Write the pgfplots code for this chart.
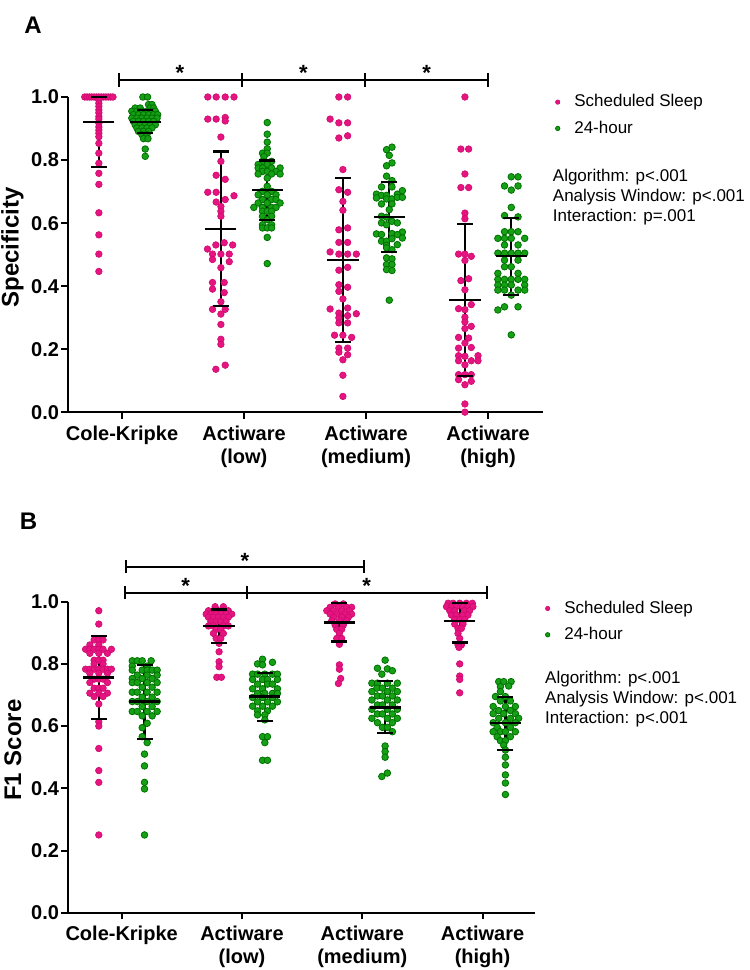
\documentclass[border=0pt]{standalone}
\usepackage{fontspec}
\setmainfont{Liberation Sans}
\usepackage{pgfplots}
\usepackage{pgfplotstable}
\pgfplotsset{compat=1.18}

\definecolor{pinkfill}{RGB}{230,20,128}
\definecolor{pinkedge}{RGB}{205,10,110}
\definecolor{greenfill}{RGB}{22,160,22}
\definecolor{greenedge}{RGB}{0,112,0}

% dx = horizontal swarm offset (reference pixels), y = value
% ---------------- panel A: specificity ----------------
\pgfplotstableread{
dx y
-14 1.0
-11.7 1.0
-9.3 1.0
-7 1.0
-4.7 1.0
-2.3 1.0
0 1.0
2.3 1.0
4.7 1.0
7 1.0
9.3 1.0
11.7 1.0
14 1.0
0 0.99
0 0.98
0 0.97
0 0.959
0 0.95
0 0.938
0 0.93
0 0.917
0 0.905
0 0.895
0 0.885
0 0.874
0 0.853
0 0.822
0 0.790
0 0.758
0 0.723
0 0.633
0 0.563
0 0.502
0 0.447
}\Acp
\pgfplotstableread{
dx y
-2.3 1.0
2.3 1.0
3.3 0.976
6.7 0.976
-10 0.965
-5 0.965
5 0.965
8.3 0.965
-13.3 0.955
-8.3 0.955
-3.3 0.955
1.7 0.955
6.7 0.955
10 0.955
-11.7 0.944
-6.7 0.944
-1.7 0.944
3.3 0.944
8.3 0.944
12.3 0.944
-13.3 0.933
-8.3 0.933
-3.3 0.933
1.7 0.933
6.7 0.933
11.7 0.933
-11.7 0.923
-6.7 0.923
-1.7 0.923
3.3 0.923
8.3 0.923
-10 0.912
-5 0.912
0 0.912
5 0.912
10 0.912
-8.3 0.902
-3.3 0.902
1.7 0.902
6.7 0.902
-6.7 0.891
-1.7 0.891
3.3 0.891
-3.3 0.881
1.7 0.881
-1.7 0.868
2.7 0.868
0 0.835
0 0.812
}\Acg
\pgfplotstableread{
dx y
-13 1.0
-4.7 1.0
4.3 1.0
13 1.0
-13 0.930
-4.7 0.930
4.3 0.935
4.3 0.924
0 0.873
0 0.796
-4.7 0.752
4.3 0.739
-13 0.698
-4.7 0.698
13 0.687
4.3 0.675
-4.7 0.667
0 0.653
0 0.638
0 0.622
-13.3 0.518
-5 0.531
3.3 0.538
11.7 0.531
-8.3 0.502
0 0.502
8.3 0.502
-8.3 0.485
8.3 0.478
0 0.459
-8.3 0.412
3.3 0.412
-8.3 0.391
3.3 0.380
0 0.351
-8.3 0.327
4.3 0.327
0 0.312
0 0.279
0 0.232
0 0.216
4.3 0.150
-5 0.137
}\Alp
\pgfplotstableread{
dx y
0 0.919
0 0.882
0 0.857
0 0.836
-4.7 0.822
0 0.822
-3.3 0.811
-4.7 0.796
4.3 0.796
-9 0.786
0 0.786
-9 0.775
-4.7 0.775
4.3 0.775
12.7 0.775
-4.7 0.764
0 0.764
8.7 0.764
-9 0.756
4.3 0.756
12.7 0.756
0 0.743
0 0.717
-4.7 0.701
4.3 0.701
-9 0.690
0 0.690
8.7 0.690
-4.7 0.675
4.3 0.675
8.7 0.675
-9 0.664
0 0.664
12.7 0.664
-13.3 0.650
-4.7 0.650
4.3 0.650
8.7 0.650
-4.7 0.638
0 0.638
4.3 0.638
-4.7 0.622
4.3 0.622
0 0.611
-4.7 0.595
4.3 0.595
-4.7 0.585
0 0.585
4.3 0.585
0 0.555
0 0.472
}\Alg
\pgfplotstableread{
dx y
-4 1.0
4.7 1.0
-12.7 0.930
-4 0.918
4.7 0.918
-4 0.870
4.7 0.877
0 0.770
-4 0.706
4.7 0.698
0 0.669
0 0.641
-4 0.579
4.7 0.585
-4 0.539
4.7 0.539
-12.7 0.509
-4 0.502
4.7 0.502
13.3 0.502
-4 0.451
4.7 0.460
-4 0.405
4.7 0.397
-4 0.384
0 0.360
-12.7 0.328
-4 0.315
4.7 0.331
-4 0.300
4.7 0.307
13.3 0.313
-4 0.284
4.7 0.284
-8.3 0.245
0 0.245
8.7 0.238
-4 0.204
4.7 0.204
-4 0.191
4.7 0.183
0 0.167
0 0.118
0 0.051
}\Amp
\pgfplotstableread{
dx y
-2.7 0.833
2.7 0.841
0 0.815
2.7 0.791
-2.7 0.782
-2.7 0.749
2.7 0.735
-7.7 0.715
2.7 0.715
-12.7 0.692
-7.7 0.688
-2.7 0.688
8 0.692
13 0.703
-12.7 0.680
-2.7 0.677
2.7 0.677
8 0.682
13 0.682
-7.7 0.661
2.7 0.661
0 0.643
-7.7 0.622
-2.7 0.619
2.7 0.606
-7.7 0.601
8 0.601
-2.7 0.595
13 0.572
-12.7 0.566
-7.7 0.564
2.7 0.567
8 0.564
-7.7 0.543
-2.7 0.543
2.7 0.551
13 0.553
-2.7 0.530
8 0.532
-2.7 0.522
2.7 0.516
-2.7 0.490
2.7 0.487
-2.7 0.469
2.7 0.469
-2.7 0.453
2.7 0.450
0 0.356
}\Amg
\pgfplotstableread{
dx y
0 1.0
-4 0.835
3.7 0.835
0 0.756
-4 0.713
3.7 0.713
0 0.632
0 0.614
-6.3 0.502
0 0.502
6.3 0.495
0 0.482
-4 0.418
3.7 0.424
0 0.389
-6.3 0.329
6.3 0.342
0 0.326
0 0.302
0 0.287
6.3 0.273
0 0.266
-6.3 0.238
3.7 0.236
0 0.220
-6.3 0.204
6.3 0.206
-6.3 0.180
13 0.180
0 0.178
-6.3 0.164
6.3 0.164
13 0.164
0 0.151
-6.3 0.120
0 0.120
6.3 0.120
-6.3 0.104
6.3 0.099
0 0.088
0 0.027
0 0.001
}\Ahp
\pgfplotstableread{
dx y
0 0.747
6.7 0.747
-6.7 0.718
6.7 0.718
0 0.705
0 0.650
-6.7 0.624
6.7 0.620
-6.7 0.573
0 0.573
6.7 0.573
-13.3 0.552
-6.7 0.552
0 0.552
13.3 0.552
-6.7 0.531
6.7 0.531
-13.3 0.505
-6.7 0.505
0 0.505
6.7 0.505
13.3 0.505
-6.7 0.483
6.7 0.483
-6.7 0.462
0 0.462
-13.3 0.441
6.7 0.441
-13.3 0.422
-6.7 0.422
0 0.422
6.7 0.422
13.3 0.422
-13.3 0.404
-6.7 0.404
0 0.404
13.3 0.404
-13.3 0.388
-6.7 0.388
6.7 0.388
13.3 0.388
0 0.372
-6.7 0.335
6.7 0.335
-13.3 0.325
0 0.246
}\Ahg
% mean and SD limits
\pgfplotstableread{
x m hi lo
0.81 0.922 1.000 0.779
1.19 0.922 0.959 0.885
1.81 0.582 0.827 0.337
2.19 0.704 0.799 0.609
2.81 0.484 0.743 0.223
3.19 0.620 0.730 0.508
3.81 0.356 0.598 0.115
4.19 0.496 0.617 0.372
}\Asd

% ---------------- panel B: F1 score ----------------
\pgfplotstableread{
dx y
0 0.971
0 0.928
-4.7 0.877
0 0.877
4.3 0.877
-9 0.861
0 0.861
-13.3 0.847
-9 0.847
-4.7 0.847
0 0.847
4.3 0.847
12.7 0.847
-9 0.834
0 0.834
8.7 0.834
-4.7 0.812
0 0.812
4.3 0.812
-4.7 0.800
4.3 0.800
-13.3 0.783
-9 0.783
-4.7 0.783
0 0.783
4.3 0.783
8.7 0.783
12.7 0.783
-9 0.770
0 0.770
8.7 0.770
-4.7 0.751
0 0.751
4.3 0.751
-9 0.740
8.7 0.740
-4.7 0.722
0 0.722
4.3 0.722
-9 0.706
0 0.706
8.7 0.706
-4.7 0.695
4.3 0.695
0 0.671
0 0.614
0 0.600
0 0.528
0 0.457
0 0.419
0 0.250
}\Bcp
\pgfplotstableread{
dx y
-12.3 0.810
-7.3 0.810
-2.3 0.810
6.7 0.810
-12.3 0.793
2.7 0.793
-12.3 0.780
-2.3 0.780
2.7 0.780
7.7 0.780
12.7 0.780
-7.3 0.764
2.7 0.764
12.7 0.764
-12.3 0.753
-2.3 0.753
7.7 0.753
-12.3 0.740
-7.3 0.740
2.7 0.740
12.7 0.740
-2.3 0.725
7.7 0.725
-12.3 0.709
-7.3 0.709
2.7 0.709
12.7 0.709
-2.3 0.693
7.7 0.693
-12.3 0.679
-7.3 0.679
2.7 0.679
12.7 0.679
-2.3 0.663
7.7 0.663
-12.3 0.647
-7.3 0.647
2.7 0.647
12.7 0.647
-2.3 0.633
7.7 0.633
2.7 0.609
-2.3 0.595
-2.3 0.566
2.7 0.547
0 0.510
0 0.472
0 0.419
0 0.398
0 0.250
}\Bcg
\pgfplotstableread{
dx y
-4 0.984
4.3 0.984
-10.7 0.971
-5.7 0.971
-0.7 0.971
4.3 0.971
9.3 0.971
-13 0.960
-8.3 0.960
-3 0.960
1.7 0.960
7 0.960
12.7 0.960
-10.7 0.950
-5.7 0.950
-0.7 0.950
4.3 0.950
9.3 0.950
-8.3 0.936
-3 0.936
1.7 0.936
7 0.936
-10.7 0.922
-5.7 0.922
4.3 0.922
9.3 0.922
-3 0.911
1.7 0.911
-5.7 0.898
4.3 0.898
-3 0.882
1.7 0.882
0 0.866
0 0.839
0 0.807
0 0.791
-2.3 0.757
2.3 0.757
}\Blp
\pgfplotstableread{
dx y
-2.3 0.815
7.7 0.805
-7.3 0.800
-2.3 0.797
-12.3 0.767
-7.3 0.767
0 0.767
7.7 0.767
12.7 0.767
-12.3 0.750
-2.3 0.750
2.7 0.750
12.7 0.750
-7.3 0.735
2.7 0.735
7.7 0.735
-12.3 0.720
-2.3 0.720
12.7 0.720
-7.3 0.705
0 0.705
7.7 0.705
12.7 0.705
-12.3 0.692
-2.3 0.692
7.7 0.692
-7.3 0.678
2.7 0.678
12.7 0.678
-12.3 0.664
-2.3 0.664
7.7 0.664
-7.3 0.649
2.7 0.649
-7.3 0.636
0 0.636
0 0.620
-2.3 0.566
2.7 0.566
0 0.547
-2.3 0.490
2.7 0.490
}\Blg
\pgfplotstableread{
dx y
-4.3 0.993
4 0.993
-9.3 0.982
-1 0.982
7.3 0.982
12.3 0.982
-12.7 0.971
-6 0.971
2.3 0.971
10 0.971
-9.3 0.960
-2.7 0.960
5.7 0.960
12.3 0.960
-6 0.950
2.3 0.950
9 0.950
-7.7 0.939
0 0.939
7.3 0.939
-4.3 0.925
4 0.925
-2.7 0.911
2.3 0.911
0 0.898
-2.7 0.882
2.3 0.882
0 0.863
0 0.797
0 0.783
1.3 0.753
-1 0.737
}\Bmp
\pgfplotstableread{
dx y
0 0.812
-7.7 0.786
2.3 0.784
7.3 0.778
-3.3 0.767
-13.3 0.738
-7.7 0.738
2.3 0.738
12.3 0.738
-8.3 0.722
-2.7 0.722
7.3 0.722
-13.3 0.711
2.3 0.711
12.3 0.711
-7.7 0.697
-2.7 0.697
7.3 0.697
-13.3 0.684
2.3 0.684
12.3 0.684
-7.7 0.668
-2.7 0.668
7.3 0.668
-13.3 0.654
2.3 0.654
12.3 0.654
-7.7 0.639
-2.7 0.639
7.3 0.639
-13.3 0.625
2.3 0.625
12.3 0.625
-7.7 0.611
7.3 0.611
-2.7 0.596
2.3 0.596
7.3 0.582
0 0.536
0 0.518
0 0.500
2.3 0.449
-3.3 0.438
}\Bmg
\pgfplotstableread{
dx y
-11.7 0.995
-6.7 0.995
0 0.995
6.7 0.995
12.7 0.995
-13.3 0.984
-8.3 0.984
-3.3 0.984
3.3 0.984
8.3 0.984
13.3 0.984
-10 0.971
-5 0.971
5 0.971
10 0.971
-8.3 0.957
-3.3 0.957
3.3 0.957
8.3 0.957
-5 0.943
0 0.943
5 0.943
-5 0.928
3.3 0.928
-1.7 0.914
1.7 0.914
-1.7 0.898
0 0.882
-1.7 0.861
1.7 0.861
-0.7 0.853
0 0.800
0 0.761
0 0.750
0 0.707
}\Bhp
\pgfplotstableread{
dx y
-6.7 0.743
-1.7 0.743
5.7 0.743
-5 0.727
3.3 0.729
-5 0.711
-10 0.695
0 0.695
-5 0.681
5 0.681
-12.3 0.663
0 0.663
10 0.663
-6.7 0.650
5 0.650
-12.3 0.640
-1.7 0.640
10 0.640
-6.7 0.625
5 0.625
13.3 0.625
-12.3 0.611
0 0.611
10 0.611
-8.3 0.596
5 0.596
-12.3 0.582
-5 0.582
0 0.582
10 0.582
-8.3 0.566
5 0.566
-5 0.553
0 0.553
-1.7 0.539
0 0.523
0 0.500
0 0.475
0 0.443
0 0.417
0 0.380
}\Bhg
\pgfplotstableread{
x m hi lo
0.81 0.756 0.891 0.622
1.19 0.679 0.796 0.558
1.81 0.922 0.975 0.866
2.19 0.695 0.772 0.617
2.81 0.933 0.995 0.872
3.19 0.660 0.746 0.577
3.81 0.938 0.995 0.869
4.19 0.609 0.693 0.523
}\Bsd

\tikzset{sigstar/.style={anchor=north, inner sep=0pt, font=\bfseries\fontsize{11}{11}\selectfont}}

\pgfplotsset{
  swarm/.style={
    scale only axis, ymin=0, ymax=1, clip=false,
    axis x line=bottom, axis y line=left,
    axis line style={-, line width=1pt, black},
    major tick style={line width=1pt, black},
    tick align=outside, major tick length=3.3pt,
    xtick={1,2,3,4},
    xticklabels={Cole-Kripke,{Actiware\\(low)},{Actiware\\(medium)},{Actiware\\(high)}},
    ytick={0,0.2,0.4,0.6,0.8,1},
    yticklabel style={inner xsep=1pt, /pgf/number format/fixed,
      /pgf/number format/fixed zerofill, /pgf/number format/precision=1},
    /pgf/number format/assume math mode=true,
    ticklabel style={font=\bfseries\fontsize{10}{11.5}\selectfont},
    xticklabel style={align=center},
    ylabel style={anchor=center, font=\bfseries\fontsize{12}{14}\selectfont},
    legend cell align=left,
    legend style={draw=none, fill=none, inner sep=0pt, anchor=north west,
      font=\fontsize{8.5}{10}\selectfont, column sep=5.2pt, row sep=1.5pt},
    legend image code/.code={\draw[##1, mark size=1.1pt] plot coordinates {(0pt,0pt)};},
  },
  pinkdots/.style={only marks, mark=*, mark size=1.65pt,
    mark options={draw=pinkedge, fill=pinkfill, line width=0.3pt}},
  greendots/.style={only marks, mark=*, mark size=1.65pt,
    mark options={draw=greenedge, fill=greenfill, line width=0.4pt}},
  % vertical SD bar + wide mean line
  sdbar/.style={forget plot, black, only marks, mark=-, mark size=7.8pt,
    mark options={line width=1.1pt},
    error bars/.cd, y dir=both, y explicit, error mark=none,
    error bar style={line width=1.1pt}},
  % short caps at mean +- SD
  sdcap/.style={forget plot, black, only marks, mark=-, mark size=4pt,
    mark options={line width=1.1pt}},
}

\begin{document}
\begin{tikzpicture}
\path[use as bounding box] (0,0) rectangle (375pt,485pt);

% ---------- A ----------
\node[font=\bfseries\fontsize{12}{12}\selectfont] at (16.5pt,472.5pt) {A};
\begin{axis}[swarm,
  at={(34pt,278.75pt)}, anchor=south west,
  width=237.5pt, height=157.75pt,
  xmin=0.557, xmax=4.45,
  ylabel={Specificity},
  ylabel style={at={(axis description cs:-0.117,0.523)}},
  legend style={at={(axis description cs:1.0255,1.022)}},
]
\addplot[pinkdots] table[x expr=0.81+\thisrow{dx}/121, y=y] {\Acp};
\addlegendentry{Scheduled Sleep}
\addplot[greendots] table[x expr=1.19+\thisrow{dx}/121, y=y] {\Acg};
\addlegendentry{24-hour}
\addplot[pinkdots, forget plot] table[x expr=1.81+\thisrow{dx}/121, y=y] {\Alp};
\addplot[greendots, forget plot] table[x expr=2.19+\thisrow{dx}/121, y=y] {\Alg};
\addplot[pinkdots, forget plot] table[x expr=2.81+\thisrow{dx}/121, y=y] {\Amp};
\addplot[greendots, forget plot] table[x expr=3.19+\thisrow{dx}/121, y=y] {\Amg};
\addplot[pinkdots, forget plot] table[x expr=3.81+\thisrow{dx}/121, y=y] {\Ahp};
\addplot[greendots, forget plot] table[x expr=4.19+\thisrow{dx}/121, y=y] {\Ahg};
\addplot[sdbar] table[x=x, y=m, y error plus expr=\thisrow{hi}-\thisrow{m},
  y error minus expr=\thisrow{m}-\thisrow{lo}] {\Asd};
\addplot[sdcap] table[x=x, y=hi] {\Asd};
\addplot[sdcap] table[x=x, y=lo] {\Asd};
% significance brackets
\draw[line width=1pt] (axis cs:0.975,1.054) -- (axis cs:4.0,1.054);
\draw[line width=1pt] (axis cs:0.975,1.032) -- (axis cs:0.975,1.076);
\draw[line width=1pt] (axis cs:1.984,1.032) -- (axis cs:1.984,1.076);
\draw[line width=1pt] (axis cs:2.992,1.032) -- (axis cs:2.992,1.076);
\draw[line width=1pt] (axis cs:4.0,1.032) -- (axis cs:4.0,1.076);
\node[sigstar] at (axis cs:1.475,1.101) {*};
\node[sigstar] at (axis cs:2.486,1.101) {*};
\node[sigstar] at (axis cs:3.497,1.101) {*};
\node[anchor=north west, align=left, inner sep=0pt, font=\fontsize{8.5}{10}\selectfont]
  at (axis description cs:1.02,0.774)
  {Algorithm: p<.001\\Analysis Window: p<.001\\Interaction: p=.001};
\end{axis}

% ---------- B ----------
\node[font=\bfseries\fontsize{12}{12}\selectfont] at (14.3pt,224.5pt) {B};
\begin{axis}[swarm,
  at={(34pt,28.65pt)}, anchor=south west,
  width=233.5pt, height=155.5pt,
  xmin=0.554, xmax=4.436,
  ylabel={F1 Score},
  ylabel style={at={(axis description cs:-0.118,0.523)}},
  legend style={at={(axis description cs:1.0216,1.017)}},
]
\addplot[pinkdots] table[x expr=0.81+\thisrow{dx}/121, y=y] {\Bcp};
\addlegendentry{Scheduled Sleep}
\addplot[greendots] table[x expr=1.19+\thisrow{dx}/121, y=y] {\Bcg};
\addlegendentry{24-hour}
\addplot[pinkdots, forget plot] table[x expr=1.81+\thisrow{dx}/121, y=y] {\Blp};
\addplot[greendots, forget plot] table[x expr=2.19+\thisrow{dx}/121, y=y] {\Blg};
\addplot[pinkdots, forget plot] table[x expr=2.81+\thisrow{dx}/121, y=y] {\Bmp};
\addplot[greendots, forget plot] table[x expr=3.19+\thisrow{dx}/121, y=y] {\Bmg};
\addplot[pinkdots, forget plot] table[x expr=3.81+\thisrow{dx}/121, y=y] {\Bhp};
\addplot[greendots, forget plot] table[x expr=4.19+\thisrow{dx}/121, y=y] {\Bhg};
\addplot[sdbar] table[x=x, y=m, y error plus expr=\thisrow{hi}-\thisrow{m},
  y error minus expr=\thisrow{m}-\thisrow{lo}] {\Bsd};
\addplot[sdcap] table[x=x, y=hi] {\Bsd};
\addplot[sdcap] table[x=x, y=lo] {\Bsd};
% significance brackets
\draw[line width=1pt] (axis cs:1.036,1.1125) -- (axis cs:3.014,1.1125);
\draw[line width=1pt] (axis cs:1.036,1.092) -- (axis cs:1.036,1.133);
\draw[line width=1pt] (axis cs:3.014,1.092) -- (axis cs:3.014,1.133);
\draw[line width=1pt] (axis cs:1.030,1.029) -- (axis cs:4.034,1.029);
\draw[line width=1pt] (axis cs:1.030,1.008) -- (axis cs:1.030,1.050);
\draw[line width=1pt] (axis cs:2.039,1.008) -- (axis cs:2.039,1.050);
\draw[line width=1pt] (axis cs:4.034,1.008) -- (axis cs:4.034,1.050);
\node[sigstar] at (axis cs:2.025,1.158) {*};
\node[sigstar] at (axis cs:1.532,1.075) {*};
\node[sigstar] at (axis cs:3.037,1.075) {*};
\node[anchor=north west, align=left, inner sep=0pt, font=\fontsize{8.5}{10}\selectfont]
  at (axis description cs:1.021,0.777)
  {Algorithm: p<.001\\Analysis Window: p<.001\\Interaction: p<.001};
\end{axis}
\end{tikzpicture}
\end{document}
